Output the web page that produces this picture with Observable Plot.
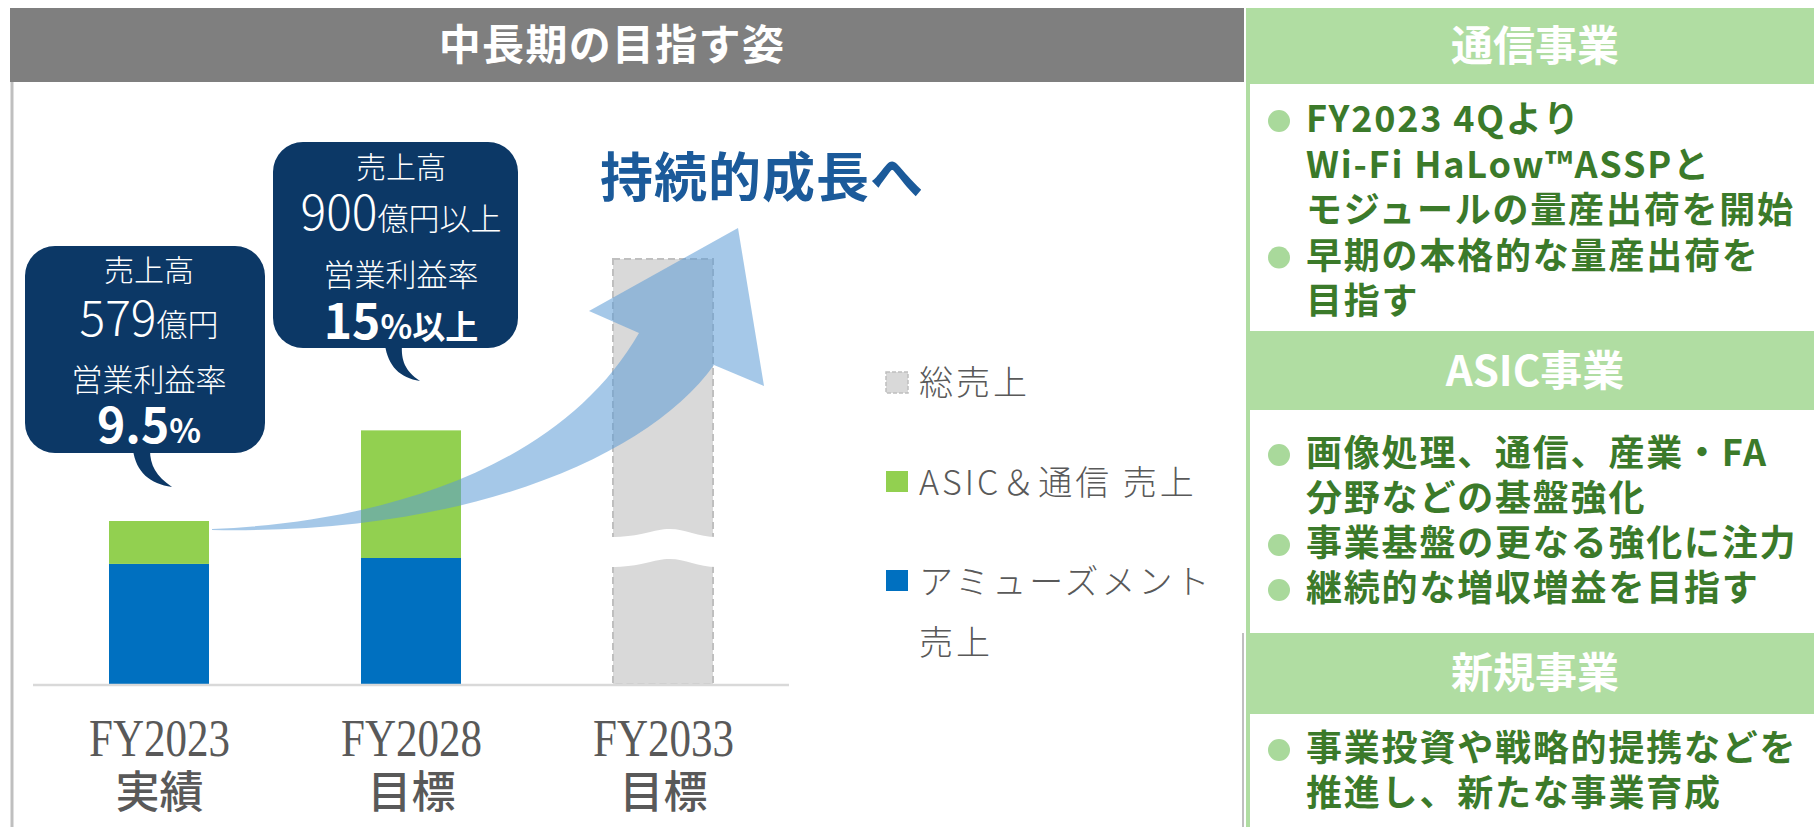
<!DOCTYPE html>
<html>
<head>
<meta charset="utf-8">
<script src="https://cdn.jsdelivr.net/npm/d3@7"></script>
<script src="https://cdn.jsdelivr.net/npm/@observablehq/plot@0.6"></script>
<style>
html, body { margin: 0; padding: 0; background: #fff; }
#root { position: relative; width: 1814px; height: 827px; overflow: hidden;
  font-family: "Noto Sans CJK JP", "Noto Sans", sans-serif; }
#chart { position: absolute; left: 0; top: 0; }
#overlay { position: absolute; left: 0; top: 0; pointer-events: none; }
</style>
</head>
<body>
<div id="root">
  <div id="chart"></div>
  <svg id="overlay" width="1814" height="827"></svg>
</div>
<script>
// ---------------- data ----------------
const categories = ["FY2023", "FY2028", "FY2033"];
const fyLabels = ["FY2023", "FY2028", "FY2033"];
const statusLabels = ["実績", "目標", "目標"];
const seriesNames = ["アミューズメント 売上", "ASIC＆通信 売上"];
const amusementSales = [427, 448];      // FY2023, FY2028 (億円)
const asicCommSales = [152, 452];       // FY2023, FY2028 (億円)
const totalSalesTarget = [1507];        // FY2033 (drawn with an axis break)
const axisBreak = [416, 522];           // value range hidden by the break
const seriesColors = ["#0070c0", "#92d050"];
const totalColor = "#d9d9d9";

const pageTitle = "中長期の目指す姿";
const growthText = "持続的成長へ";
const legendLabels = ["総売上", "ASIC＆通信 売上", "アミューズメント", "売上"];

const bubble1 = ["売上高", "579", "億円", "営業利益率", "9.5", "%"];
const bubble2 = ["売上高", "900", "億円以上", "営業利益率", "15", "%以上"];

const panelTitles = ["通信事業", "ASIC事業", "新規事業"];
const panel1 = [["FY2023 4Qより", true], ["Wi-Fi HaLow™ASSPと", false], ["モジュールの量産出荷を開始", false],
                ["早期の本格的な量産出荷を", true], ["目指す", false]];
const panel2 = [["画像処理、通信、産業・FA", true], ["分野などの基盤強化", false],
                ["事業基盤の更なる強化に注力", true], ["継続的な増収増益を目指す", true]];
const panel3 = [["事業投資や戦略的提携などを", true], ["推進し、新たな事業育成", false]];

// ---------------- chart ----------------
const stacked = [];
categories.slice(0, 2).forEach((c, i) => {
  stacked.push({cat: c, series: seriesNames[0], value: amusementSales[i]});
  stacked.push({cat: c, series: seriesNames[1], value: asicCommSales[i]});
});
const total = [{cat: categories[2], value: totalSalesTarget[0]}];

const plot = Plot.plot({
  width: 800,
  height: 827,
  marginLeft: 33,
  marginRight: 11,
  marginTop: 232.7,
  marginBottom: 142.5,
  style: {background: "transparent", overflow: "visible", color: "#595959", maxWidth: "none"},
  x: {domain: categories, paddingInner: 0.603, paddingOuter: 0.3015},
  y: {domain: [0, 1600], axis: null},
  color: {domain: seriesNames, range: seriesColors},
  marks: [
    Plot.barY(stacked, {x: "cat", y: "value", fill: "series", order: seriesNames}),
    Plot.barY(total, {x: "cat", y: "value", fill: totalColor, stroke: "#bfbfbf",
      strokeWidth: 2, strokeDasharray: "7,4"}),
    Plot.ruleY([0], {stroke: "#d9d9d9", strokeWidth: 2.5}),
    Plot.axisX({tickSize: 0, tickPadding: 34.5, label: null,
      tickFormat: d => fyLabels[categories.indexOf(d)],
      fontSize: 52, fontFamily: "'Liberation Serif', serif"})
  ]
});
document.getElementById("chart").append(plot);

const svgEl = plot.tagName.toLowerCase() === "svg" ? plot : plot.querySelector("svg");
// two-line tick labels: condensed serif year + status word below
d3.select(svgEl).selectAll("text").filter(function () { return fyLabels.includes(this.textContent); })
  .each(function () {
    const k = fyLabels.indexOf(this.textContent);
    const sel = d3.select(this);
    sel.text(null);
    sel.append("tspan").attr("textLength", 141).attr("lengthAdjust", "spacingAndGlyphs").text(fyLabels[k]);
    sel.append("tspan").attr("x", 0).attr("dy", 52)
      .attr("font-family", "'Noto Sans CJK JP', sans-serif").attr("font-size", 44).attr("font-weight", 500)
      .text(statusLabels[k]);
  });

// axis break on the FY2033 bar, placed through the plot's scales
const sx = plot.scale("x"), sy = plot.scale("y");
const bx = sx.apply(categories[2]), bw = sx.bandwidth;
const yU = sy.apply(axisBreak[1]), yL = sy.apply(axisBreak[0]);
const L = bx - 4, R = bx + bw + 4, a = 8;
const breakPath =
  `M${L},${yU} C${bx + 0.3 * bw},${yU} ${bx + 0.4 * bw},${yU - a} ${bx + 0.57 * bw},${yU - a} ` +
  `C${bx + 0.72 * bw},${yU - a} ${bx + 0.85 * bw},${yU} ${R},${yU} ` +
  `L${R},${yL} C${bx + 0.85 * bw},${yL} ${bx + 0.72 * bw},${yL - a} ${bx + 0.57 * bw},${yL - a} ` +
  `C${bx + 0.4 * bw},${yL - a} ${bx + 0.3 * bw},${yL} ${L},${yL} Z`;
d3.select(svgEl).append("path").attr("d", breakPath).attr("fill", "#fff");

// ---------------- decoration / panels ----------------
const ov = d3.select("#overlay");
const FONT = "'Noto Sans CJK JP', 'Noto Sans', sans-serif";
const G = "#b0dda2", GT = "#3b7a2a", GB = "#a9d99b";

// left panel frame
ov.append("line").attr("x1", 12).attr("x2", 12).attr("y1", 82).attr("y2", 827)
  .attr("stroke", "#bfbfbf").attr("stroke-width", 3);
ov.append("line").attr("x1", 1243).attr("x2", 1243).attr("y1", 633).attr("y2", 827)
  .attr("stroke", "#bfbfbf").attr("stroke-width", 2);
// gray header
ov.append("rect").attr("x", 10).attr("y", 8).attr("width", 1234).attr("height", 74).attr("fill", "#7f7f7f");
ov.append("text").attr("x", 612).attr("y", 60).attr("text-anchor", "middle")
  .attr("font-family", FONT).attr("font-size", 42).attr("font-weight", 700).attr("fill", "#fff")
  .attr("letter-spacing", 1.3).text(pageTitle);

// right panels
const headers = [[8, 74], [333, 75], [635, 77]];
const bodies = [[82, 251], [408, 227], [712, 200]];
bodies.forEach(([y, h]) => {
  ov.append("rect").attr("x", 1248).attr("y", y).attr("width", 620).attr("height", h)
    .attr("fill", "#fff").attr("stroke", G).attr("stroke-width", 4);
});
headers.forEach(([y, h], i) => {
  ov.append("rect").attr("x", 1246).attr("y", y).attr("width", 620).attr("height", h).attr("fill", G);
  ov.append("text").attr("x", 1535).attr("y", y + 53).attr("text-anchor", "middle")
    .attr("font-family", FONT).attr("font-size", 42).attr("font-weight", 700).attr("fill", "#fff")
    .text(panelTitles[i]);
});
function panelText(lines, base, pitch) {
  lines.forEach(([t, bullet], i) => {
    const y = base + pitch * i;
    if (bullet) ov.append("circle").attr("cx", 1279).attr("cy", y - 11).attr("r", 11).attr("fill", GB);
  });
  const txt = ov.append("text").attr("font-family", FONT)
    .attr("font-size", 36).attr("font-weight", 700).attr("letter-spacing", 1.8).attr("fill", GT);
  lines.forEach(([t], i) => {
    txt.append("tspan").attr("x", 1306).attr("y", base + pitch * i).text(t);
  });
}
panelText(panel1, 132, 45.5);
panelText(panel2, 466, 45);
panelText(panel3, 761, 45);

// growth arrow
ov.append("path")
  .attr("d", "M212,529 C380,522 560,470 639,333 L589,311 L738,228 L764,386 L714,365 " +
             "C650,455 470,535 212,530 Z")
  .attr("fill", "#5b9bd5").attr("fill-opacity", 0.55);

ov.append("text").attr("x", 600).attr("y", 197).attr("font-family", FONT)
  .attr("font-size", 53).attr("font-weight", 700).attr("letter-spacing", 1).attr("fill", "#1b5a9a").text(growthText);

// speech bubbles (each bubble's text is one text element with lines as tspans)
const NAVY = "#0c3866";
function bubble(x, y, w, h, tail, cx, txt, baselines) {
  ov.append("rect").attr("x", x).attr("y", y).attr("width", w).attr("height", h)
    .attr("rx", 30).attr("fill", NAVY);
  ov.append("path").attr("d", tail).attr("fill", NAVY);
  const t = ov.append("text").attr("text-anchor", "middle").attr("font-family", FONT)
    .attr("fill", "#fff").attr("font-weight", 300);
  t.append("tspan").attr("x", cx).attr("y", baselines[0]).attr("font-size", 30).text(txt[0]);
  t.append("tspan").attr("x", cx).attr("y", baselines[1]).attr("font-size", 48).text(txt[1]);
  t.append("tspan").attr("font-size", 31).text(txt[2]);
  t.append("tspan").attr("x", cx).attr("y", baselines[2]).attr("font-size", 31).text(txt[3]);
  t.append("tspan").attr("x", cx).attr("y", baselines[3]).attr("font-size", 48).attr("font-weight", 700).text(txt[4]);
  t.append("tspan").attr("font-size", 33).attr("font-weight", 700).text(txt[5]);
}
bubble(25, 246, 240, 207, "M133,450 C136,472 150,484 172,487 C156,476 150,465 150,450 Z",
  149, bubble1, [281, 336, 391, 443]);
bubble(273, 142, 245, 206, "M385,345 C388,366 400,378 420,381 C405,371 401,360 402,345 Z",
  401, bubble2, [178, 230, 286, 339]);

// legend
const lg = [[372, "gray"], [471, seriesColors[1]], [570, seriesColors[0]]];
lg.forEach(([y, c]) => {
  const r = ov.append("rect").attr("x", 886).attr("y", y).attr("width", 22).attr("height", 21);
  if (c === "gray") r.attr("fill", totalColor).attr("stroke", "#bfbfbf").attr("stroke-width", 1.5).attr("stroke-dasharray", "4,2");
  else r.attr("fill", c);
});
[[395, legendLabels[0]], [495, legendLabels[1]], [594, legendLabels[2]], [655, legendLabels[3]]].forEach(([y, s]) => {
  ov.append("text").attr("x", 919).attr("y", y).attr("font-family", FONT).attr("font-size", 34)
    .attr("font-weight", 300).attr("letter-spacing", 3).attr("fill", "#595959").text(s);
});
</script>
</body>
</html>
